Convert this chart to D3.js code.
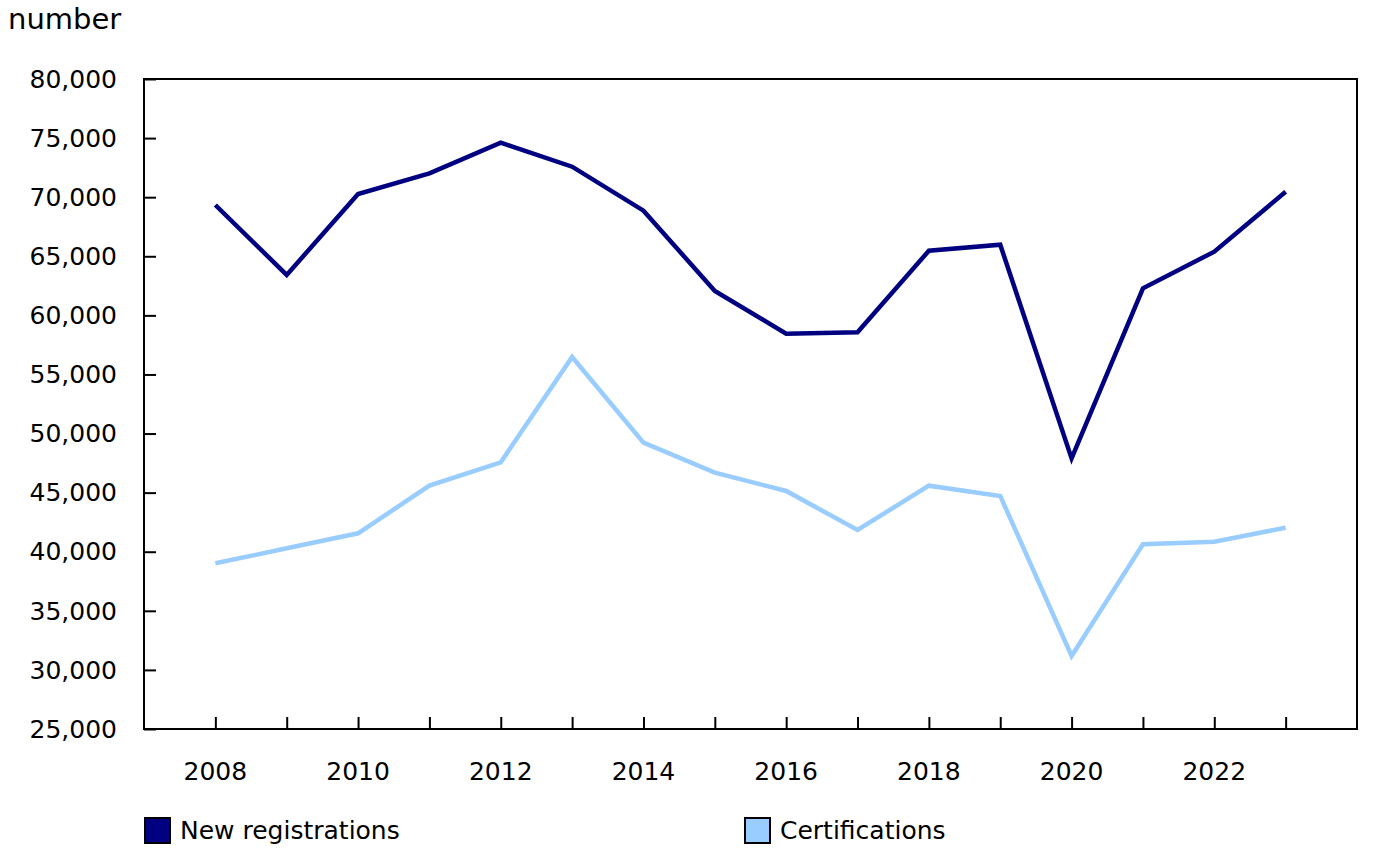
<!DOCTYPE html>
<html lang="en">
<head>
  <meta charset="utf-8">
  <title>New registrations and certifications</title>
  <script src="https://cdn.jsdelivr.net/npm/d3@7/dist/d3.min.js"></script>
  <style>
    body { margin: 0; background: #fff; }
    svg text { font-family: "DejaVu Sans", Verdana, sans-serif; fill: #000; }
  </style>
</head>
<body>
  <svg id="chart" width="1383" height="858"></svg>

  <script>
    // ---- data ----
    const years = [2008, 2009, 2010, 2011, 2012, 2013, 2014, 2015,
                   2016, 2017, 2018, 2019, 2020, 2021, 2022, 2023];
    const newRegistrations = [69340, 63420, 70270, 72020, 74610, 72580, 68860, 62060,
                              58450, 58570, 65470, 65980, 47900, 62290, 65390, 70460];
    const certifications   = [39020, 40290, 41560, 45590, 47570, 56480, 49230, 46690,
                              45140, 41840, 45590, 44720, 31180, 40630, 40850, 42030];
    const yTicks = [25000, 30000, 35000, 40000, 45000, 50000, 55000,
                    60000, 65000, 70000, 75000, 80000];
    const xLabelYears = [2008, 2010, 2012, 2014, 2016, 2018, 2020, 2022];
    const seriesNames = ['New registrations', 'Certifications'];
    const seriesColors = ['#000080', '#99ccff'];

    // ---- layout ----
    const plotL = 144, plotR = 1357, plotT = 79, plotB = 729;
    const svg = d3.select('#chart');

    const x = d3.scaleLinear().domain([2007, 2024]).range([plotL, plotR]);
    const y = d3.scaleLinear().domain([25000, 80000]).range([plotB, plotT]);
    const fmt = d3.format(',');

    // frame
    svg.append('rect')
      .attr('x', plotL).attr('y', plotT)
      .attr('width', plotR - plotL).attr('height', plotB - plotT)
      .attr('fill', 'none').attr('stroke', '#000').attr('stroke-width', 2);

    // y axis (ticks inside the frame)
    const yAxis = svg.append('g')
      .attr('transform', `translate(${plotL},0)`)
      .call(d3.axisRight(y).tickValues(yTicks).tickSize(12).tickFormat(''));
    yAxis.select('.domain').remove();
    yAxis.selectAll('line').attr('stroke', '#000').attr('stroke-width', 2);

    svg.append('g').selectAll('text')
      .data(yTicks)
      .join('text')
        .attr('x', 117)
        .attr('y', d => y(d))
        .attr('dy', '0.35em')
        .attr('text-anchor', 'end')
        .attr('font-size', 25)
        .text(d => fmt(d));

    // x axis (ticks inside the frame)
    const xAxis = svg.append('g')
      .attr('transform', `translate(0,${plotB})`)
      .call(d3.axisTop(x).tickValues(years).tickSize(12).tickFormat(''));
    xAxis.select('.domain').remove();
    xAxis.selectAll('line').attr('stroke', '#000').attr('stroke-width', 2);

    svg.append('g').selectAll('text')
      .data(xLabelYears)
      .join('text')
        .attr('x', d => x(d))
        .attr('y', 780)
        .attr('text-anchor', 'middle')
        .attr('font-size', 25)
        .text(d => d);

    // unit label
    svg.append('text')
      .attr('x', 8).attr('y', 29)
      .attr('font-size', 29)
      .text('number');

    // lines
    const line = d3.line()
      .x((d, i) => x(years[i]))
      .y(d => y(d));

    [newRegistrations, certifications].forEach((vals, k) => {
      svg.append('path')
        .datum(vals)
        .attr('fill', 'none')
        .attr('stroke', seriesColors[k])
        .attr('stroke-width', 4.5)
        .attr('stroke-linejoin', 'miter')
        .attr('d', line);
    });

    // legend
    const legendX = [144, 744];
    const lg = svg.append('g').selectAll('g')
      .data(seriesNames)
      .join('g')
        .attr('transform', (d, i) => `translate(${legendX[i]},817)`);

    lg.append('rect')
      .attr('x', 1).attr('y', 1)
      .attr('width', 25).attr('height', 25)
      .attr('fill', (d, i) => seriesColors[i])
      .attr('stroke', '#000').attr('stroke-width', 2);

    lg.append('text')
      .attr('x', 36).attr('y', 22)
      .attr('font-size', 25)
      .text(d => d);
  </script>
</body>
</html>
